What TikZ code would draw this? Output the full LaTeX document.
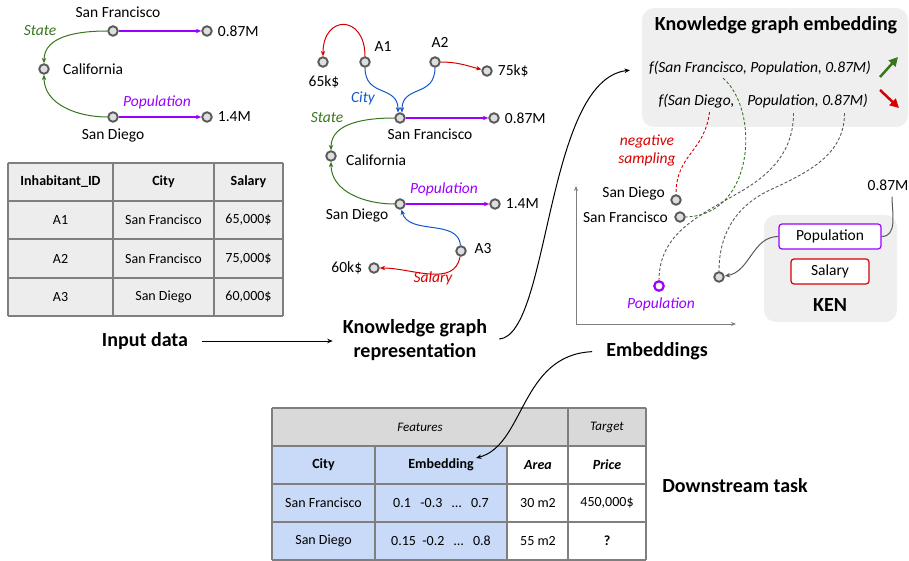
\documentclass[tikz,border=0pt]{standalone}
\usepackage{fontspec}
\setmainfont{Carlito}
\usetikzlibrary{arrows.meta,positioning}
\definecolor{kgreen}{RGB}{56,118,29}
\definecolor{kpurple}{RGB}{153,0,255}
\definecolor{kblue}{RGB}{17,85,204}
\definecolor{kred}{RGB}{215,0,0}
\definecolor{vgrey}{RGB}{89,89,89}
\definecolor{vfill}{RGB}{222,222,222}
\definecolor{boxgrey}{RGB}{239,239,239}
\definecolor{tgrey}{RGB}{127,127,127}
\definecolor{tfill}{RGB}{237,237,237}
\definecolor{hgrey}{RGB}{217,217,217}
\definecolor{cblue}{RGB}{201,218,248}

\begin{document}
\begin{tikzpicture}[x=1pt,y=1pt,
  vtx/.style={circle,draw=vgrey,fill=vfill,line width=1.9pt,minimum size=9.5pt},
  txt/.style={font=\fontsize{15.5}{18}\selectfont},
  rel/.style={font=\fontsize{15.5}{18}\selectfont\itshape},
  ttl/.style={font=\fontsize{20}{24}\selectfont\bfseries,align=center},
  cell/.style={font=\fontsize{14}{16}\selectfont},
  hcell/.style={font=\fontsize{14}{16}\selectfont\bfseries},
  edge/.style={line width=1pt,-{Stealth[length=5.5pt,width=4.5pt]}},
  trail/.style={line width=0.9pt,dash pattern=on 3pt off 2pt},
  box/.style={fill=boxgrey,rounded corners=12pt},
  tline/.style={draw=tgrey,line width=1.2pt},
  axis/.style={draw=tgrey,line width=1pt,-{Stealth[length=5pt,width=4pt]}}]
\tikzstyle{every node}+=[inner sep=0pt]
\useasboundingbox (0,0) rectangle (909,-561);

\node[vtx] (sf1) at (113,-31) {};
\node[txt] (sf1l) at (118,-12) {San Francisco};
\node[vtx] (pa1) at (207,-31) {};
\node[txt,right=5pt of pa1] (pa1l) {0.87M};
\node[vtx] (ca1) at (44,-69) {};
\node[txt,anchor=west] (ca1l) at (63,-69) {California};
\node[vtx] (sd1) at (113,-117) {};
\node[txt] (sd1l) at (113,-136) {San Diego};
\node[vtx] (pb1) at (207,-117) {};
\node[txt,right=5pt of pb1] (pb1l) {1.4M};
\node[rel,kgreen] (st1) at (40,-31) {State};
\node[rel,kpurple] (po1) at (157,-102) {Population};
\draw[edge,kgreen] (sf1) to[out=180,in=90] (ca1);
\draw[edge,kgreen] (sd1) to[out=180,in=-90] (ca1);
\draw[edge,kpurple,line width=1.3pt] (sf1) -- (pa1);
\draw[edge,kpurple,line width=1.3pt] (sd1) -- (pb1);

\fill[tfill] (8,-163) rectangle (283,-316);
\foreach \y in {163,201,239,278,316}
  \draw[tline] (8,-\y) -- (283,-\y);
\foreach \x in {8,113,214,283}
  \draw[tline] (\x,-163) -- (\x,-316);
\node[hcell] (t1h1) at (60.5,-182) {Inhabitant\_ID};
\node[hcell] (t1h2) at (163.5,-182) {City};
\node[hcell] (t1h3) at (248.5,-182) {Salary};
\node[cell] (t1a1) at (60.5,-220) {A1};
\node[cell] (t1b1) at (163.5,-220) {San Francisco};
\node[cell] (t1c1) at (248.5,-220) {65,000\$};
\node[cell] (t1a2) at (60.5,-258.5) {A2};
\node[cell] (t1b2) at (163.5,-258.5) {San Francisco};
\node[cell] (t1c2) at (248.5,-258.5) {75,000\$};
\node[cell] (t1a3) at (60.5,-297) {A3};
\node[cell] (t1b3) at (163.5,-297) {San Diego};
\node[cell] (t1c3) at (248.5,-297) {60,000\$};

\node[vtx] (a1) at (365,-62) {};
\node[txt] (a1l) at (383,-47) {A1};
\node[vtx] (k65) at (323,-62) {};
\node[txt] (k65l) at (324,-82) {65k\$};
\node[vtx] (a2) at (435,-62) {};
\node[txt] (a2l) at (440,-42) {A2};
\node[vtx] (k75) at (487,-71) {};
\node[txt,right=5pt of k75] (k75l) {75k\$};
\node[vtx] (sf2) at (400,-118) {};
\node[txt] (sf2l) at (430,-134) {San Francisco};
\node[vtx] (pa2) at (494,-118) {};
\node[txt,right=5pt of pa2] (pa2l) {0.87M};
\node[vtx] (ca2) at (331,-156) {};
\node[txt,anchor=west] (ca2l) at (346,-160) {California};
\node[vtx] (sd2) at (400,-204) {};
\node[txt] (sd2l) at (357,-216) {San Diego};
\node[vtx] (pb2) at (495,-204) {};
\node[txt,right=5pt of pb2] (pb2l) {1.4M};
\node[vtx] (a3) at (461,-251) {};
\node[txt] (a3l) at (483,-249) {A3};
\node[vtx] (k60) at (374,-268) {};
\node[txt,left=6pt of k60] (k60l) {60k\$};
\node[rel,kblue] (ci2) at (363,-98) {City};
\node[rel,kgreen] (st2) at (327,-118) {State};
\node[rel,kpurple] (po2) at (444,-189) {Population};
\node[rel,kred] (sa2) at (433,-278) {Salary};
\draw[edge,kred] (a1.north) .. controls +(0,42) and +(0,42) .. (k65.north);
\draw[edge,kred] (a2) to[out=0,in=165] (k75);
\draw[edge,kblue] (a1.south) .. controls +(0,-30) and +(0,28) .. (sf2.110);
\draw[edge,kblue] (a2.south) .. controls +(0,-30) and +(0,28) .. (sf2.70);
\draw[edge,kpurple,line width=1.3pt] (sf2) -- (pa2);
\draw[edge,kpurple,line width=1.3pt] (sd2) -- (pb2);
\draw[edge,kgreen] (sf2) to[out=180,in=90] (ca2);
\draw[edge,kgreen] (sd2) to[out=180,in=-90] (ca2);
\draw[edge,kblue] (a3) to[out=95,in=-75] (sd2);
\draw[edge,kred] (a3) to[out=-100,in=0] (k60);

\node[ttl] (inp) at (145,-341) {Input data};
\node[ttl] (kgr) at (415,-340) {Knowledge graph\\representation};
\draw[edge,shorten <=14pt,shorten >=10pt] (inp.east) -- (inp.east -| kgr.west);

\node[box,minimum width=266pt,minimum height=119pt] (kge) at (775,-67.5) {};
\node[ttl] (kget) at (776,-25) {Knowledge graph embedding};
\node[rel] (fsf) at (760,-68) {f(San Francisco, Population, 0.87M)};
\node[rel] (fsd) at (696.5,-101) {f(San Diego,};
\node[rel] (fpop) at (807.5,-101) {Population, 0.87M)};
\coordinate (up0) at (880,-77);
\coordinate (up1) at (898,-57);
\coordinate (dn0) at (880,-90);
\coordinate (dn1) at (899,-108);
\draw[kgreen,line width=2.5pt,-{Triangle[length=9pt,width=9pt]}] (up0) -- (up1);
\draw[kred,line width=2.5pt,-{Triangle[length=9pt,width=9pt]}] (dn0) -- (dn1);
\draw[edge,shorten <=12pt,shorten >=19pt] (kgr.east) .. controls (550,-335) and (545,-80) .. (fsf.west);

\node[rel,kred,align=center] (neg) at (647,-150) {negative\\sampling};

\coordinate (org) at (576,-324);
\coordinate (yax) at (576,-186);
\coordinate (xax) at (736,-324);
\draw[axis] (org) -- (yax);
\draw[axis] (org) -- (xax);

\node[box,minimum width=133pt,minimum height=107pt] (ken) at (830.5,-268.5) {};
\node[txt,draw=kpurple,fill=white,rounded corners=3pt,line width=1.2pt,minimum width=102pt,minimum height=25pt] (pbox) at (830,-236.5) {Population};
\node[txt,draw=kred,fill=white,rounded corners=3pt,line width=1.2pt,minimum width=78pt,minimum height=25pt] (sbox) at (830,-271.5) {Salary};
\node[ttl] (kenl) at (830,-305) {KEN};
\node[txt] (m87) at (888,-185) {0.87M};

\node[vtx] (sdp) at (676,-200) {};
\node[txt,anchor=east] (sdpl) at (665,-194) {San Diego};
\node[vtx] (sfp) at (680,-217) {};
\node[txt,anchor=east] (sfpl) at (668,-217) {San Francisco};
\node[vtx,draw=kpurple,fill=white,line width=2.2pt] (pop) at (659,-286) {};
\node[rel,kpurple] (popl) at (661,-304) {Population};
\node[vtx] (ukp) at (719,-277) {};

\draw[trail,kred] ([xshift=13pt,yshift=-4pt]fsd.south) .. controls +(-5,-40) and +(0,40) .. (sdp.north);
\draw[trail,kgreen] ([xshift=-37pt,yshift=-3pt]fsf.south) .. controls (760,-110) and (755,-215) .. (sfp.east);
\draw[trail,vgrey] ([xshift=-14pt,yshift=-5pt]fpop.south) to[out=-90,in=30] (740,-192) to[out=210,in=90] (pop.north);
\draw[trail,vgrey] ([xshift=37pt,yshift=-5pt]fpop.south) to[out=-90,in=25] (770,-190) to[out=205,in=90] (ukp.north);
\draw[vgrey,line width=1pt] (pbox.east) to[out=0,in=-90] ([xshift=4pt,yshift=-6pt]m87.south);
\draw[edge,vgrey] (pbox.west) to[out=180,in=10] (ukp);

\node[ttl] (embl) at (657,-351) {Embeddings};
\coordinate (embtip) at (476,-458);
\node[ttl] (dst) at (735,-486) {Downstream task};

\fill[hgrey] (272,-408) rectangle (646,-446);
\fill[cblue] (272,-446) rectangle (507,-560);
\foreach \y in {408,446,484,522,560}
  \draw[tline] (272,-\y) -- (646,-\y);
\foreach \x in {272,568,646}
  \draw[tline] (\x,-408) -- (\x,-560);
\foreach \x in {375,507}
  \draw[tline] (\x,-446) -- (\x,-560);
\node[cell,font=\fontsize{13}{15}\selectfont\itshape] (t2f) at (420,-427) {Features};
\node[cell,font=\fontsize{13}{15}\selectfont\itshape] (t2t) at (607,-427) {Target};
\node[hcell] (t2h1) at (323.5,-465) {City};
\node[hcell] (t2h2) at (441,-465) {Embedding};
\node[hcell,font=\fontsize{14}{16}\selectfont\bfseries\itshape] (t2h3) at (538,-465) {Area};
\node[hcell,font=\fontsize{14}{16}\selectfont\bfseries\itshape] (t2h4) at (607,-465) {Price};
\node[cell] (t2a1) at (323.5,-503) {San Francisco};
\node[cell] (t2b1) at (441,-503) {0.1\ \ \ -0.3\ \ \ \dots\ \ \ 0.7};
\node[cell] (t2c1) at (538,-503) {30 m2};
\node[cell] (t2d1) at (607,-503) {450,000\$};
\node[cell] (t2a2) at (323.5,-541) {San Diego};
\node[cell] (t2b2) at (441,-541) {0.15\ \ -0.2\ \ \ \dots\ \ \ 0.8};
\node[cell] (t2c2) at (538,-541) {55 m2};
\node[hcell] (t2d2) at (607,-541) {?};
\draw[edge,shorten <=14pt] (embl.west) .. controls (520,-355) and (525,-445) .. (embtip);
\end{tikzpicture}
\end{document}
